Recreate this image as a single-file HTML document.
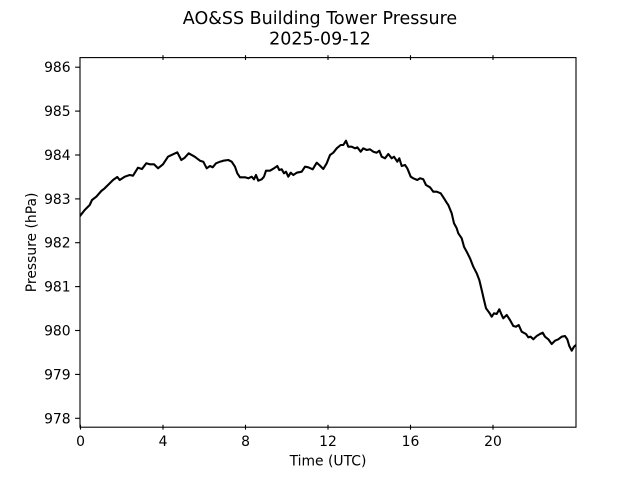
<!DOCTYPE html>
<html>
<head>
<meta charset="utf-8">
<style>
html,body{margin:0;padding:0;background:#fff;}
svg{display:block;}
text{font-family:"DejaVu Sans","Liberation Sans",sans-serif;fill:#000;}
</style>
</head>
<body>
<svg width="640" height="480" viewBox="0 0 640 480" xmlns="http://www.w3.org/2000/svg">
<rect width="640" height="480" fill="#fff"/>
<text x="320" y="23.8" font-size="17.5" text-anchor="middle">AO&amp;SS Building Tower Pressure</text>
<text x="320" y="44.4" font-size="17.5" text-anchor="middle">2025-09-12</text>
<defs><clipPath id="c"><rect x="80" y="57.6" width="496" height="369.6"/></clipPath></defs>
<polyline clip-path="url(#c)" fill="none" stroke="#000" stroke-width="2.1" stroke-linejoin="round" stroke-linecap="square" points="
80,216 84.7,210 89.7,205 92,200 96.3,196.7 101.3,191 104.7,188.3 108,185 113,180 117.3,177 119.7,180 124.7,176.7 129.7,175 133,175.7 138,167.7 142,169 146.3,163.3 149.7,164.3 154,164.3 158,168.3 163,164.3 168,156.7 173,154.3 177.3,152.3 181.3,160 184.7,157.7 188.7,153.3 194.7,156.7 200,160.7 203.3,161.7 206.7,168.3 210,166 212.7,167.3 216,163.3 220,161.7 223.3,160.7 228.3,160 231.7,161.7 235,166.7 237.3,173.3 240,177.3 245,177.3 248.3,178.3 251.7,176.7 254,179.3 256,175 258.3,180.7 261.7,179.3 264,176.7 266,170.7 270,170.7 274,168.3 277.3,166 279.3,170 281.7,169.3 284,173.3 286,171.7 288.3,176.7 290.7,172.7 293.3,175 296.7,172.7 301.7,171.7 305,166.7 308.3,167.3 312.7,169.3 316.7,162.7 319.3,165 323.3,169 326.7,163.3 330,155 333.3,152.7 336.7,148.3 340.7,145 343.3,145 346,140.7 348.3,146.7 351.7,146.7 355,148.3 357.3,147.3 360.7,151.7 363.3,148.3 366.7,150 370,149.3 373.3,151.7 376.7,152.7 379.3,150.7 381.7,156.7 385,158.3 388.3,154 391.7,158.3 394,156.7 397.3,161.7 399.3,158.3 401.7,166 405,165 407.3,168.3 410.7,176.7 413.3,178.3 417.3,180 420,178.3 423.3,179.3 426,185 430,187.3 433.3,191.7 436.7,191.7 440.7,193.3 444,198.3 446.7,202.7 448.3,205 451.7,213.3 454,223.3 456.7,228.3 458.3,233.3 461.7,238.3 464,246.7 466.7,251.7 470,258.3 473.3,266.7 476.7,273.3 479.3,280 481.7,290 484,300 486,308.3 489.3,312.7 491.7,316.7 494,313.3 496.7,314 499.3,309.3 501.7,315 503.3,318.3 506.7,315 510,320 513.3,326 516,326.7 518.7,325 521.7,331.7 526,334 528.3,337.3 530.7,336.7 533.3,339.3 536.7,336 540,334 542.7,332.7 545,336.7 548.3,339.3 551.7,344 555,340.7 558.3,339.3 561.7,336.7 565,336 567.3,339.3 569.3,346 571.7,350.7 574,346.7 576,345"/>
<!-- axes frame -->
<rect x="80" y="57.6" width="496" height="369.6" fill="none" stroke="#000" stroke-width="1.1"/>
<!-- y ticks -->
<g stroke="#000" stroke-width="1.1">
<line x1="75.1" y1="418.3" x2="80" y2="418.3"/>
<line x1="75.1" y1="374.4" x2="80" y2="374.4"/>
<line x1="75.1" y1="330.5" x2="80" y2="330.5"/>
<line x1="75.1" y1="286.6" x2="80" y2="286.6"/>
<line x1="75.1" y1="242.7" x2="80" y2="242.7"/>
<line x1="75.1" y1="198.9" x2="80" y2="198.9"/>
<line x1="75.1" y1="155.0" x2="80" y2="155.0"/>
<line x1="75.1" y1="111.1" x2="80" y2="111.1"/>
<line x1="75.1" y1="67.2" x2="80" y2="67.2"/>
</g>
<!-- x ticks bottom (inout) and top -->
<g stroke="#000" stroke-width="1.1">
<line x1="80.5" y1="424.8" x2="80.5" y2="429.6"/>
<line x1="163" y1="424.8" x2="163" y2="429.6"/>
<line x1="245.5" y1="424.8" x2="245.5" y2="429.6"/>
<line x1="328" y1="424.8" x2="328" y2="429.6"/>
<line x1="410.5" y1="424.8" x2="410.5" y2="429.6"/>
<line x1="493" y1="424.8" x2="493" y2="429.6"/>
<line x1="163" y1="55.2" x2="163" y2="60"/>
<line x1="245.5" y1="55.2" x2="245.5" y2="60"/>
<line x1="328" y1="55.2" x2="328" y2="60"/>
<line x1="410.5" y1="55.2" x2="410.5" y2="60"/>
<line x1="493" y1="55.2" x2="493" y2="60"/>
</g>
<!-- y tick labels -->
<g font-size="13.9" text-anchor="end">
<text x="70.6" y="423.3">978</text>
<text x="70.6" y="379.4">979</text>
<text x="70.6" y="335.5">980</text>
<text x="70.6" y="291.6">981</text>
<text x="70.6" y="247.7">982</text>
<text x="70.6" y="203.9">983</text>
<text x="70.6" y="160.0">984</text>
<text x="70.6" y="116.1">985</text>
<text x="70.6" y="72.2">986</text>
</g>
<!-- x tick labels -->
<g font-size="13.9" text-anchor="middle">
<text x="80.5" y="445.8">0</text>
<text x="163" y="445.8">4</text>
<text x="245.5" y="445.8">8</text>
<text x="328" y="445.8">12</text>
<text x="410.5" y="445.8">16</text>
<text x="493" y="445.8">20</text>
</g>
<text x="328" y="465.3" font-size="13.9" text-anchor="middle">Time (UTC)</text>
<text transform="translate(36.2,242.4) rotate(-90)" font-size="13.9" text-anchor="middle">Pressure (hPa)</text>
</svg>
</body>
</html>
